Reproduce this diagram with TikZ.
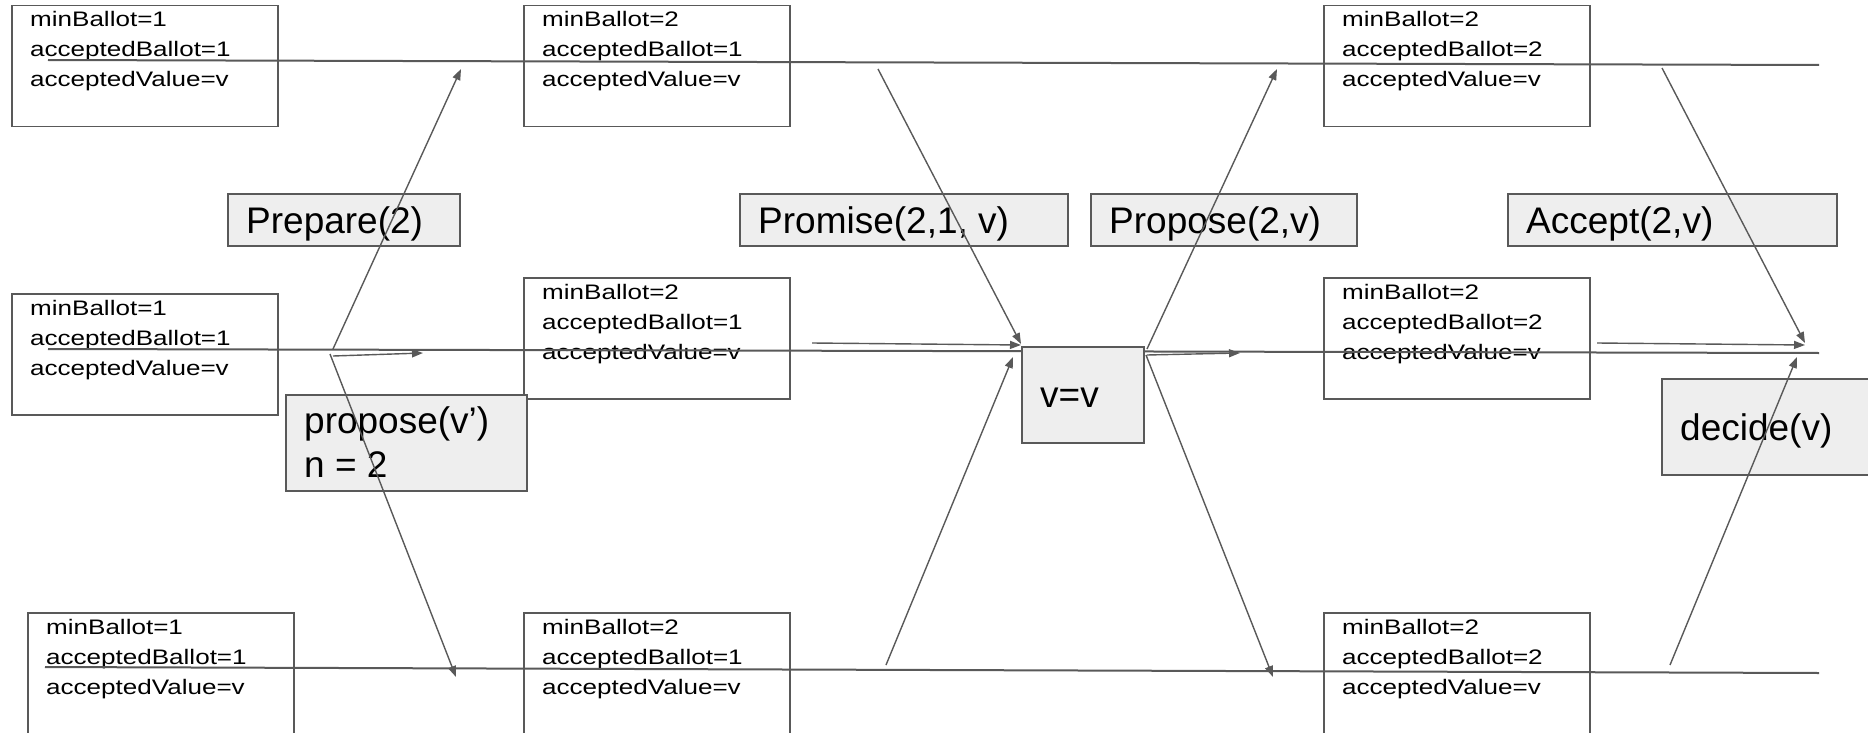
\documentclass[tikz,border=0pt]{standalone}
\usepackage{fontspec}
\setmainfont{Liberation Sans}
\newfontfamily\statefont{Liberation Sans}[FakeStretch=1.24]
\usepackage{tikz}
\usetikzlibrary{arrows.meta}
\definecolor{linegray}{HTML}{595959}
\definecolor{boxgray}{HTML}{EEEEEE}
\tikzset{
  statebox/.style={draw=linegray, line width=1.5pt, fill=white, anchor=north west,
    minimum width=266, minimum height=121, inner sep=0pt},
  statetext/.style={anchor=base west, align=left, inner sep=0pt,
    font=\statefont\fontsize{21pt}{30pt}\selectfont},
  msgbox/.style={draw=linegray, line width=1.5pt, fill=boxgray, anchor=north west, inner sep=0pt},
  msgtext/.style={anchor=base west, align=left, inner sep=0pt,
    font=\fontsize{37pt}{44pt}\selectfont},
  timeline/.style={draw=linegray, line width=2pt},
  msg/.style={draw=linegray, line width=1.4pt, -{Triangle[length=11pt,width=8pt]}}
}
% text base sits on the last line
\newcommand{\acceptor}[5]{\node[statebox] (#1) at (#2,#3) {};
  \node[statetext] (#1txt) at (#2+19,#3+82) {minBallot=#4\\acceptedBallot=#5\\acceptedValue=v};}
\newcommand{\msgbox}[7]{\node[msgbox, minimum width=#4, minimum height=#5] (#1) at (#2,#3) {};
  \node[msgtext] (#1txt) at (#2+19,#3+#6) {#7};}

\begin{document}
\begin{tikzpicture}[x=1pt, y=-1pt]
        \clip (0,0) rectangle (1868,733);
        % acceptor 1
        \acceptor{aa}{11}{5}{1}{1}
        \acceptor{ab}{523}{5}{2}{1}
        \acceptor{ac}{1323}{5}{2}{2}
        % acceptor 2
        \acceptor{ba}{11}{293}{1}{1}
        \acceptor{bb}{523}{277}{2}{1}
        \acceptor{bc}{1323}{277}{2}{2}
        % acceptor 3
        \acceptor{ca}{27}{612}{1}{1}
        \acceptor{cb}{523}{612}{2}{1}
        \acceptor{cc}{1323}{612}{2}{2}
        % timelines
        \coordinate (top0) at (48,60);
        \coordinate (top1) at (1819,65);
        \coordinate (mid0) at (48,349);
        \coordinate (mid1) at (1819,353);
        \coordinate (bot0) at (45,667);
        \coordinate (bot1) at (1819,673);
        \draw[timeline] (top0) -- (top1);
        \draw[timeline] (mid0) -- (mid1);
        \draw[timeline] (bot0) -- (bot1);
        % messages
        \msgbox{prepare}{227}{193}{232}{52}{40}{Prepare(2)}
        \msgbox{promise}{739}{193}{328}{52}{40}{Promise(2,1, v)}
        \msgbox{propose}{1090}{193}{266}{52}{40}{Propose(2,v)}
        \msgbox{accept}{1507}{193}{329}{52}{40}{Accept(2,v)}
        \msgbox{client}{285}{394}{241}{96}{83}{propose(v’)\\n = 2}
        \msgbox{check}{1021}{346}{122}{96}{61}{v=v}
        \msgbox{decide}{1661}{378}{240}{96}{62}{decide(v)}
        % phase 1a
        \coordinate (pa0) at (333,349);
        \coordinate (pa1) at (461,69);
        \coordinate (pa2) at (330,354);
        \coordinate (pa3) at (456,677);
        \coordinate (pa4) at (333,356);
        \coordinate (pa5) at (423,353);
        \draw[msg] (pa0) -- (pa1);
        \draw[msg] (pa2) -- (pa3);
        \draw[msg] (pa4) -- (pa5);
        % phase 1b
        \coordinate (pb0) at (878,69);
        \coordinate (pb1) at (1021,344);
        \coordinate (pb2) at (812,343);
        \coordinate (pb3) at (1021,345);
        \coordinate (pb4) at (886,665);
        \coordinate (pb5) at (1013,357);
        \draw[msg] (pb0) -- (pb1);
        \draw[msg] (pb2) -- (pb3);
        \draw[msg] (pb4) -- (pb5);
        % phase 2a
        \coordinate (pc0) at (1147,349);
        \coordinate (pc1) at (1277,69);
        \coordinate (pc2) at (1147,355);
        \coordinate (pc3) at (1240,353);
        \coordinate (pc4) at (1146,355);
        \coordinate (pc5) at (1273,677);
        \draw[msg] (pc0) -- (pc1);
        \draw[msg] (pc2) -- (pc3);
        \draw[msg] (pc4) -- (pc5);
        % phase 2b
        \coordinate (pd0) at (1662,68);
        \coordinate (pd1) at (1805,343);
        \coordinate (pd2) at (1597,343);
        \coordinate (pd3) at (1805,345);
        \coordinate (pd4) at (1670,665);
        \coordinate (pd5) at (1797,357);
        \draw[msg] (pd0) -- (pd1);
        \draw[msg] (pd2) -- (pd3);
        \draw[msg] (pd4) -- (pd5);
\end{tikzpicture}
\end{document}
